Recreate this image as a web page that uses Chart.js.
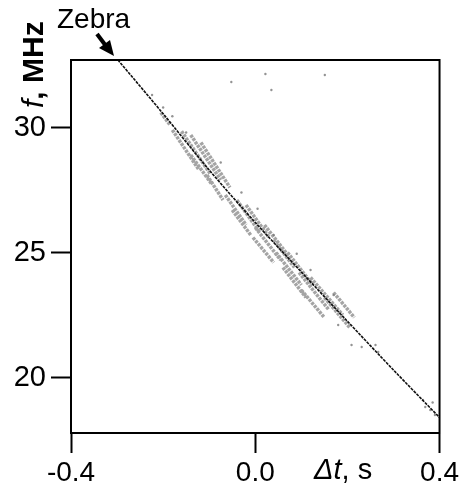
<!DOCTYPE html>
<html>
<head>
<meta charset="utf-8">
<script src="https://cdn.jsdelivr.net/npm/chart.js@4/dist/chart.umd.min.js"></script>
<style>
  html, body { margin: 0; padding: 0; background: #fff; }
</style>
</head>
<body>
<canvas id="zebraChart" width="462" height="488"></canvas>
<script>
// tick positions
const xTicks = [-0.4, 0.0, 0.4];
const yTicks = [20, 25, 30];

// main drifting line, [dt (s), f (MHz)]
const mainLine = [
    [-0.298, 32.70], [-0.2, 30.55], [-0.1, 28.30], [0.0, 26.20],
    [0.1, 24.22], [0.2, 22.25], [0.3, 20.30], [0.4, 18.40]
];

// zebra stripes, each one [start, end]
const stripes = [
    // upper group
    [[-0.180, 29.90], [-0.122, 28.30]],
    [[-0.160, 29.85], [-0.098, 28.15]],
    [[-0.140, 29.70], [-0.075, 27.90]],
    [[-0.118, 29.40], [-0.055, 27.60]],
    [[-0.140, 28.90], [-0.095, 27.75]],
    [[-0.105, 28.10], [-0.070, 27.10]],
    [[-0.205, 30.60], [-0.185, 30.10]],
    // middle group
    [[-0.065, 27.30], [-0.020, 26.10]],
    [[-0.040, 27.10], [0.010, 25.80]],
    [[-0.020, 26.90], [0.030, 25.60]],
    [[-0.050, 26.70], [-0.010, 25.70]],
    [[0.000, 26.00], [0.055, 24.70]],
    [[0.020, 26.10], [0.075, 24.80]],
    [[-0.005, 25.60], [0.040, 24.60]],
    [[0.040, 25.50], [0.085, 24.40]],
    // lower group
    [[0.045, 25.00], [0.100, 23.70]],
    [[0.070, 25.00], [0.125, 23.70]],
    [[0.060, 24.40], [0.110, 23.20]],
    [[0.095, 24.20], [0.160, 22.70]],
    [[0.120, 24.00], [0.190, 22.50]],
    [[0.100, 23.50], [0.150, 22.40]],
    [[0.150, 23.20], [0.205, 22.00]],
    [[0.170, 23.40], [0.215, 22.40]]
];

// loose specks
const specks = [
    [-0.052, 31.82], [0.022, 32.14], [0.035, 31.50], [0.151, 32.10],
    [-0.224, 31.30], [-0.200, 30.80], [-0.180, 30.45], [-0.150, 29.80],
    [-0.030, 27.40], [0.040, 25.70], [0.090, 24.95], [0.170, 23.30],
    [0.209, 21.30], [0.231, 21.22], [0.261, 21.30], [0.267, 21.02],
    [0.364, 19.10], [0.369, 18.82], [0.380, 18.70], [0.390, 18.50], [0.385, 19.00],
    [-0.075, 28.60], [0.005, 26.75], [0.120, 24.30], [0.180, 22.10]
];

const toXY = p => ({ x: p[0], y: p[1] });

const stripeData = [];
stripes.forEach(s => {
    stripeData.push(toXY(s[0]), toXY(s[1]), { x: s[1][0], y: null });
});

const FONT = '"Liberation Sans", Arial, sans-serif';
Chart.defaults.font.family = FONT;
Chart.defaults.color = '#000';

const framePlugin = {
    id: 'frameAndLabels',
    afterDraw: (chart) => {
        const { ctx, chartArea } = chart;
        ctx.save();
        ctx.strokeStyle = '#000';
        ctx.lineWidth = 2;
        ctx.strokeRect(chartArea.left, chartArea.top,
            chartArea.right - chartArea.left, chartArea.bottom - chartArea.top);

        ctx.fillStyle = '#000';
        ctx.textBaseline = 'alphabetic';
        ctx.textAlign = 'left';

        // y title, rotated
        ctx.save();
        ctx.translate(43, 108);
        ctx.rotate(-Math.PI / 2);
        ctx.font = 'italic 30px ' + FONT;
        ctx.fillText('f', 0, 0);
        let w = ctx.measureText('f').width;
        ctx.font = 'bold 30px ' + FONT;
        ctx.fillText(', MHz', w, 0);
        ctx.restore();

        // x title
        ctx.font = 'italic 29px ' + FONT;
        ctx.fillText('\u0394t', 314, 479);
        w = ctx.measureText('\u0394t').width;
        ctx.font = '29px ' + FONT;
        ctx.fillText(', s', 314 + w, 479);

        // annotation
        ctx.font = '28px ' + FONT;
        ctx.fillText('Zebra', 57, 28);
        ctx.strokeStyle = '#000';
        ctx.lineWidth = 4;
        ctx.beginPath();
        ctx.moveTo(97, 34);
        ctx.lineTo(106, 46);
        ctx.stroke();
        ctx.beginPath();
        ctx.moveTo(114, 56);
        ctx.lineTo(99, 48);
        ctx.lineTo(110, 40);
        ctx.closePath();
        ctx.fill();
        ctx.restore();
    }
};

new Chart(document.getElementById('zebraChart'), {
    type: 'scatter',
    plugins: [framePlugin],
    data: {
        datasets: [{
            label: 'stripes',
            type: 'line',
            data: stripeData,
            borderColor: 'rgba(90, 90, 90, 0.55)',
            borderWidth: 3.5,
            borderDash: [3, 1],
            pointRadius: 0,
            spanGaps: false,
            order: 3
        }, {
            label: 'specks',
            data: specks.map(toXY),
            backgroundColor: 'rgba(120, 120, 120, 0.8)',
            borderWidth: 0,
            pointRadius: 1.2,
            order: 2
        }, {
            label: 'zebra line',
            type: 'line',
            data: mainLine.map(toXY),
            borderColor: '#111',
            borderWidth: 1.6,
            borderDash: [3, 1],
            tension: 0.3,
            pointRadius: 0,
            order: 1
        }]
    },
    options: {
        responsive: false,
        animation: false,
        layout: {
            padding: { top: 60, right: 20, left: 0, bottom: 0 }
        },
        plugins: {
            legend: { display: false },
            tooltip: { enabled: false }
        },
        scales: {
            x: {
                type: 'linear',
                min: -0.4,
                max: 0.4,
                afterBuildTicks: (scale) => {
                    scale.ticks = xTicks.map(v => ({ value: v }));
                },
                afterFit: (scale) => { scale.height = 55; },
                ticks: {
                    font: { size: 28 },
                    color: '#000',
                    padding: 3,
                    maxRotation: 0,
                    callback: (v) => v.toFixed(1)
                },
                grid: {
                    drawOnChartArea: false,
                    tickLength: 20,
                    tickColor: '#000',
                    tickWidth: 2
                },
                border: { color: '#000', width: 2 }
            },
            y: {
                type: 'linear',
                min: 17.78,
                max: 32.7,
                afterBuildTicks: (scale) => {
                    scale.ticks = yTicks.map(v => ({ value: v }));
                },
                afterFit: (scale) => { scale.width = 71; },
                ticks: {
                    font: { size: 29 },
                    color: '#000',
                    padding: 5,
                    callback: (v) => String(v)
                },
                grid: {
                    drawOnChartArea: false,
                    tickLength: 20,
                    tickColor: '#000',
                    tickWidth: 2
                },
                border: { color: '#000', width: 2 }
            }
        }
    }
});
</script>
</body>
</html>
